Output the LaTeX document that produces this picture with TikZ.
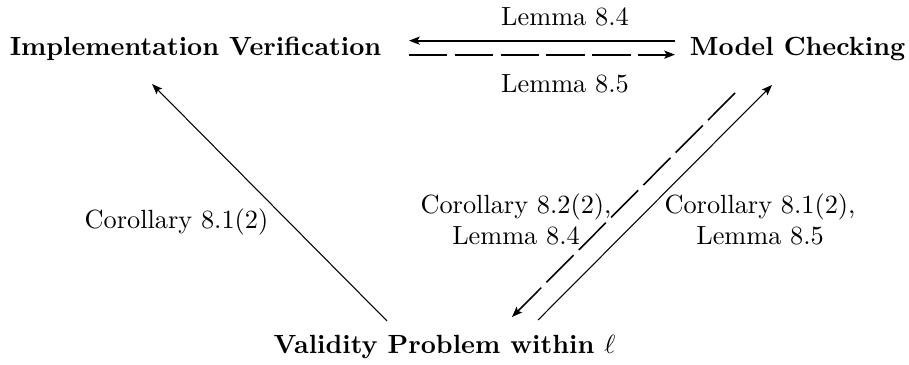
\documentclass[tikz,border=0pt]{standalone}
\usepackage{amsmath,amssymb}
\usepackage{tikz}
\usetikzlibrary{arrows.meta}

\begin{document}
\begin{tikzpicture}[>={Stealth[length=4pt,width=3pt,inset=0.8pt]}, line join=round]
  \tikzset{
    problem/.style={font=\bfseries, anchor=base, inner sep=0pt},
    result/.style={anchor=base, inner sep=0pt, align=center},
    longdash/.style={dash pattern=on 14.6pt off 2.8pt},
  }
  \useasboundingbox (0,0) rectangle (12.144,4.876);
  % problems
  \node[problem] (impl) at (2.612,4.128) {Implementation Verification};
  \node[problem] (mc) at (10.655,4.128) {Model Checking};
  \node[problem] (valid) at (5.939,0.160) {Validity Problem within $\ell$};
  % arrow ends
  \coordinate (T1) at (9.018,4.333);
  \coordinate (T2) at (5.464,4.333);
  \coordinate (T3) at (5.464,4.146);
  \coordinate (T4) at (9.018,4.146);
  \coordinate (L1) at (5.170,0.588);
  \coordinate (L2) at (2.031,3.754);
  \coordinate (R1) at (9.820,3.634);
  \coordinate (R2) at (6.840,0.641);
  \coordinate (R3) at (7.188,0.601);
  \coordinate (R4) at (10.314,3.741);
  % reductions
  \draw[->, line width=0.8pt] (T1) -- (T2);
  \draw[->, line width=0.8pt, longdash] (T3) -- (T4);
  \draw[->, line width=0.4pt] (L1) -- (L2);
  \draw[->, line width=0.6pt, longdash] (R1) -- (R2);
  \draw[->, line width=0.4pt] (R3) -- (R4);
  % labels
  \node[result] (l84) at (7.548,4.529) {Lemma 8.4};
  \node[result] (l85) at (7.548,3.634) {Lemma 8.5};
  \node[result] (c81) at (2.358,1.830) {Corollary 8.1(2)};
  \node[result] (c82) at (6.894,1.603) {Corollary 8.2(2),\\ Lemma 8.4};
  \node[result] (c81b) at (10.154,1.603) {Corollary 8.1(2),\\ Lemma 8.5};
\end{tikzpicture}
\end{document}
